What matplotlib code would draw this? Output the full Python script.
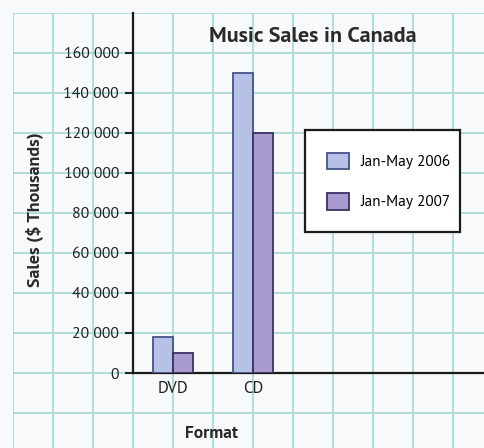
import numpy as np
import matplotlib
matplotlib.use("Agg")
import matplotlib.pyplot as plt
from matplotlib.ticker import FuncFormatter

# data
formats = ["DVD", "CD"]
sales_2006 = [18000, 150000]
sales_2007 = [10000, 120000]
series_names = ["Jan-May 2006", "Jan-May 2007"]
y_ticks = [0, 20000, 40000, 60000, 80000, 100000, 120000, 140000, 160000]

sans = ["PT Sans", "Open Sans", "DejaVu Sans"]

W, H = 485, 448
fig = plt.figure(figsize=(W / 100, H / 100), dpi=100)
fig.patch.set_facecolor("#f8f9fb")

grid_col = "#a3d9d1"

# main axes position in pixels
ax_l, ax_r, ax_t, ax_b = 133, 485, 13, 373
cell = 40.0  # px per grid cell
ymax = 180000

def px_box(l, t, r, b):
    return [l / W, 1 - b / H, (r - l) / W, (b - t) / H]

# background grid paper, same data scale as main axes
bg = fig.add_axes(px_box(13, 13, 485, 448))
bg.set_xlim((13 - ax_l) / cell, (485 - ax_l) / cell)
bg.set_ylim(-(448 - ax_b) / cell * 20000, ymax)
bg.set_xticks(np.arange(-3, 9))
bg.set_yticks(np.arange(-20000, ymax + 1, 20000))
bg.grid(True, color=grid_col, lw=1.2)
bg.tick_params(length=0, labelbottom=False, labelleft=False)
for s in bg.spines.values():
    s.set_visible(False)
bg.set_facecolor("none")

ax = fig.add_axes(px_box(ax_l, ax_t, ax_r, ax_b))
ax.set_facecolor("none")
ax.set_xlim(0, (ax_r - ax_l) / cell)
ax.set_ylim(0, ymax)

x = np.array([1, 3])
w = 0.5
ax.bar(x - w / 2, sales_2006, w, color="#b5c2e6", edgecolor="#44528c", lw=1.3,
       label=series_names[0], zorder=3)
ax.bar(x + w / 2, sales_2007, w, color="#a99ad0", edgecolor="#3b3163", lw=1.3,
       label=series_names[1], zorder=3)

ax.set_xticks(x)
ax.set_xticklabels(formats, fontsize=12, family=sans, color="#222222")
ax.tick_params(axis="x", length=0, pad=6)
ax.set_yticks(y_ticks)
ax.yaxis.set_major_formatter(FuncFormatter(lambda v, p: f"{int(v):,}".replace(",", " ")))
ax.tick_params(axis="y", length=6, width=1.5, pad=4, labelsize=11.3, colors="#222222")
for lab in ax.get_yticklabels():
    lab.set_family(sans)

for s in ["top", "right"]:
    ax.spines[s].set_visible(False)
for s in ["left", "bottom"]:
    ax.spines[s].set_linewidth(1.6)
    ax.spines[s].set_color("#1a1a1a")

fig.text(313 / W, 1 - 36 / H, "Music Sales in Canada", ha="center", va="center",
         fontsize=15.9, fontweight="bold", family=sans, color="#2a2a2a")
fig.text(34 / W, 1 - 210 / H, "Sales ($ Thousands)", ha="center", va="center",
         rotation=90, fontsize=13, fontweight="bold", family=sans, color="#2a2a2a")
fig.text(212 / W, 1 - 433 / H, "Format", ha="center", va="center",
         fontsize=12.5, fontweight="bold", family=sans, color="#2a2a2a")

leg = ax.legend(loc="upper left",
                bbox_to_anchor=((305 - ax_l) / (ax_r - ax_l), (ax_b - 134) / (ax_b - ax_t),
                                (460 - 305) / (ax_r - ax_l), 0.01),
                mode="expand", borderaxespad=0,
                prop={"family": sans, "size": 11},
                handlelength=1.4, handleheight=1.3, handletextpad=0.8,
                labelspacing=1.55, borderpad=1.45, fancybox=False, framealpha=1)
leg.get_frame().set_edgecolor("#1a1a1a")
leg.get_frame().set_linewidth(1.6)
leg.set_zorder(5)

fig.savefig("out.png", dpi=100, facecolor=fig.get_facecolor())
